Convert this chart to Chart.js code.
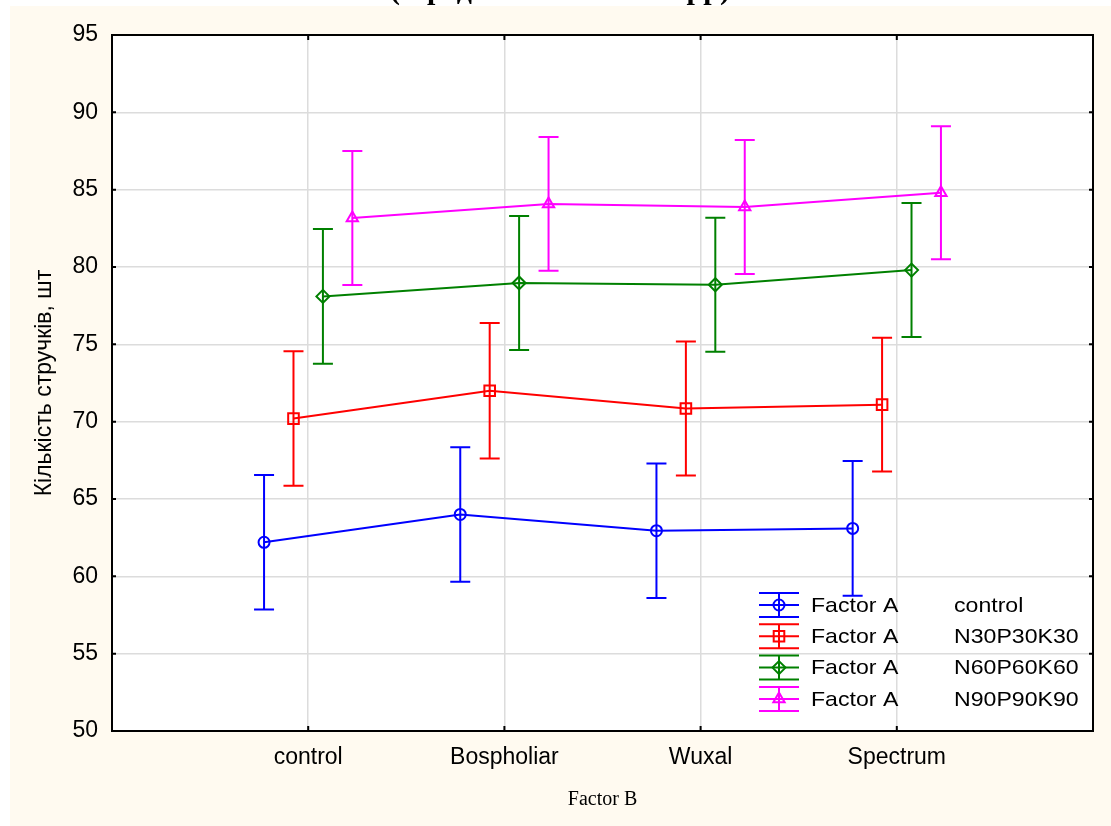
<!DOCTYPE html>
<html>
<head>
<meta charset="utf-8">
<script src="https://cdn.jsdelivr.net/npm/chart.js@4.4.1/dist/chart.umd.min.js"></script>
<style>
  body { margin: 0; background: #fff; }
  canvas { display: block; }
</style>
</head>
<body>
<canvas id="chart" width="1111" height="826"></canvas>
<script>
// Factor B levels along the x axis
const categories = ['control', 'Bospholiar', 'Wuxal', 'Spectrum'];
// Factor A levels (one line each)
const factorA = ['control', 'N30P30K30', 'N60P60K60', 'N90P90K90'];

// means
const meanControl = [62.2, 64.0, 62.95, 63.1];
const meanN30 = [70.2, 72.0, 70.85, 71.1];
const meanN60 = [78.1, 78.97, 78.85, 79.8];
const meanN90 = [83.17, 84.08, 83.88, 84.8];

// half-width of the whiskers
const ciControl = [4.35, 4.35, 4.35, 4.35];
const ciN30 = [4.35, 4.38, 4.33, 4.33];
const ciN60 = [4.35, 4.33, 4.33, 4.33];
const ciN90 = [4.33, 4.33, 4.33, 4.3];

const yTicks = [50, 55, 60, 65, 70, 75, 80, 85, 90, 95];

const means = [meanControl, meanN30, meanN60, meanN90];
const cis = [ciControl, ciN30, ciN60, ciN90];
const colors = ['#0000ff', '#ff0000', '#008000', '#ff00ff'];
const styles = ['circle', 'rect', 'rectRot', 'triangle'];
const radii = [5.5, 7.5, 6.5, 6.5];
const dodge = 0.15;

const datasets = means.map((m, i) => ({
  label: factorA[i],
  data: m.map((v, j) => ({ x: j + 1 + (i - 1.5) * dodge, y: v })),
  borderColor: colors[i],
  backgroundColor: 'rgba(0,0,0,0)',
  borderWidth: 2,
  pointStyle: styles[i],
  pointRadius: radii[i],
  pointBorderWidth: 2,
  pointBackgroundColor: 'rgba(0,0,0,0)',
  pointBorderColor: colors[i],
  tension: 0
}));

function marker(ctx, style, r, x, y) {
  ctx.beginPath();
  if (style === 'circle') {
    ctx.arc(x, y, r, 0, Math.PI * 2);
  } else if (style === 'rect') {
    const s = Math.SQRT1_2 * r;
    ctx.rect(x - s, y - s, 2 * s, 2 * s);
  } else if (style === 'rectRot') {
    ctx.moveTo(x, y - r); ctx.lineTo(x + r, y); ctx.lineTo(x, y + r); ctx.lineTo(x - r, y);
    ctx.closePath();
  } else {
    let a = 0;
    ctx.moveTo(x + Math.sin(a) * r, y - Math.cos(a) * r);
    a += 2 * Math.PI / 3;
    ctx.lineTo(x + Math.sin(a) * r, y - Math.cos(a) * r);
    a += 2 * Math.PI / 3;
    ctx.lineTo(x + Math.sin(a) * r, y - Math.cos(a) * r);
    ctx.closePath();
  }
  ctx.stroke();
}

const decor = {
  id: 'decor',
  beforeDraw(chart) {
    const ctx = chart.ctx;
    const a = chart.chartArea;
    ctx.save();
    ctx.fillStyle = '#fff';
    ctx.fillRect(0, 0, chart.width, chart.height);
    ctx.fillStyle = '#fffaf0';
    ctx.fillRect(10, 6, chart.width - 10, chart.height - 6);
    ctx.fillStyle = '#fff';
    ctx.fillRect(a.left, a.top, a.right - a.left, a.bottom - a.top);
    // title, mostly cut off by the top of the picture
    ctx.beginPath();
    ctx.rect(0, 0, chart.width, 6);
    ctx.clip();
    ctx.fillStyle = '#000';
    ctx.font = 'bold 30px "Liberation Serif", serif';
    ctx.textAlign = 'center';
    ctx.textBaseline = 'alphabetic';
    ctx.fillText('(середнє за 2019–2021 рр)', 560, -1);
    ctx.restore();
  },
  beforeDatasetsDraw(chart) {
    const ctx = chart.ctx;
    const ys = chart.scales.y;
    ctx.save();
    ctx.lineWidth = 2;
    means.forEach((m, i) => {
      const pts = chart.getDatasetMeta(i).data;
      ctx.strokeStyle = colors[i];
      m.forEach((v, j) => {
        const x = pts[j].x;
        const top = ys.getPixelForValue(v + cis[i][j]);
        const bot = ys.getPixelForValue(v - cis[i][j]);
        ctx.beginPath();
        ctx.moveTo(x, top); ctx.lineTo(x, bot);
        ctx.moveTo(x - 10, top); ctx.lineTo(x + 10, top);
        ctx.moveTo(x - 10, bot); ctx.lineTo(x + 10, bot);
        ctx.stroke();
      });
    });
    ctx.restore();
  },
  afterDraw(chart) {
    const ctx = chart.ctx;
    const a = chart.chartArea;
    const xs = chart.scales.x, ys = chart.scales.y;
    ctx.save();
    ctx.strokeStyle = '#000';
    ctx.lineWidth = 2;
    ctx.strokeRect(a.left, a.top, a.right - a.left, a.bottom - a.top);
    // inward tick marks
    ctx.beginPath();
    categories.forEach((c, j) => {
      const x = xs.getPixelForValue(j + 1);
      ctx.moveTo(x, a.top); ctx.lineTo(x, a.top + 5);
      ctx.moveTo(x, a.bottom); ctx.lineTo(x, a.bottom - 5);
    });
    yTicks.forEach(t => {
      const y = ys.getPixelForValue(t);
      ctx.moveTo(a.left, y); ctx.lineTo(a.left + 4, y);
      ctx.moveTo(a.right, y); ctx.lineTo(a.right - 4, y);
    });
    ctx.stroke();

    // legend
    const lx = 779, ly = 605, step = 31.3;
    factorA.forEach((name, i) => {
      const y = ly + i * step;
      ctx.strokeStyle = colors[i];
      ctx.lineWidth = 2;
      ctx.beginPath();
      ctx.moveTo(lx - 20, y - 12); ctx.lineTo(lx + 20, y - 12);
      ctx.moveTo(lx - 20, y); ctx.lineTo(lx + 20, y);
      ctx.moveTo(lx - 20, y + 12); ctx.lineTo(lx + 20, y + 12);
      ctx.moveTo(lx, y - 12); ctx.lineTo(lx, y + 12);
      ctx.stroke();
      marker(ctx, styles[i], radii[i], lx, y);
      ctx.fillStyle = '#000';
      ctx.font = '21px "Liberation Sans", Arial, sans-serif';
      ctx.textBaseline = 'middle';
      ctx.textAlign = 'left';
      [['Factor A', 811], [name, 954]].forEach(([t, tx]) => {
        ctx.save();
        ctx.translate(tx, y + 1);
        ctx.scale(1.1, 1);
        ctx.fillText(t, 0, 0);
        ctx.restore();
      });
    });
    ctx.restore();
  }
};

const tickFont = { family: '"Liberation Sans", Arial, sans-serif', size: 23 };

new Chart(document.getElementById('chart'), {
  type: 'line',
  data: { datasets },
  options: {
    responsive: false,
    animation: false,
    layout: { padding: { top: 35, right: 18, left: 0, bottom: 0 } },
    plugins: { legend: { display: false }, tooltip: { enabled: false } },
    scales: {
      x: {
        type: 'linear',
        min: 0,
        max: 5,
        afterFit: s => { s.height = 95; },
        ticks: {
          stepSize: 1,
          autoSkip: false,
          maxRotation: 0,
          padding: 13,
          color: '#000',
          font: tickFont,
          callback: v => categories[v - 1] || ''
        },
        grid: { color: '#dcdcdc', lineWidth: 1.5, drawTicks: false },
        border: { display: false },
        title: {
          display: true,
          text: 'Factor B',
          color: '#000',
          font: { family: '"Liberation Serif", serif', size: 20 },
          padding: { bottom: 14 }
        }
      },
      y: {
        min: 50,
        max: 95,
        afterFit: s => { s.width = 112; },
        ticks: { stepSize: 5, padding: 14, color: '#000', font: tickFont },
        grid: { color: '#dcdcdc', lineWidth: 1.5, drawTicks: false },
        border: { display: false },
        title: {
          display: true,
          text: 'Кількість стручків, шт',
          color: '#000',
          font: { family: '"Liberation Sans", Arial, sans-serif', size: 23 },
          padding: { top: 31 }
        }
      }
    }
  },
  plugins: [decor]
});
</script>
</body>
</html>
